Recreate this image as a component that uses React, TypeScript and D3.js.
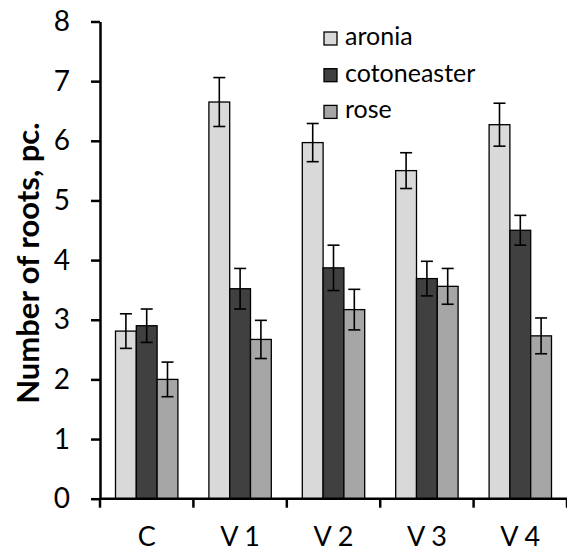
import React, { useRef, useEffect } from "react";
import * as d3 from "d3";

const categories = ["C", "V 1", "V 2", "V 3", "V 4"];
const series = ["aronia", "cotoneaster", "rose"];
const aronia = [2.81, 6.65, 5.97, 5.5, 6.27];
const cotoneaster = [2.9, 3.52, 3.87, 3.69, 4.5];
const rose = [2.0, 2.67, 3.17, 3.56, 2.73];
const aroniaErr = [0.29, 0.41, 0.32, 0.3, 0.36];
const cotoneasterErr = [0.28, 0.34, 0.38, 0.29, 0.25];
const roseErr = [0.29, 0.32, 0.34, 0.3, 0.3];
const yTicks = [0, 1, 2, 3, 4, 5, 6, 7, 8];
const colors = ["#d9d9d9", "#404040", "#a6a6a6"];

const W = 567;
const H = 552;
const FONT = "Lato, 'Open Sans', sans-serif";

export default function App() {
  const ref = useRef<SVGSVGElement>(null);

  useEffect(() => {
    const svg = d3.select(ref.current);
    svg.selectAll("*").remove();

    const values = [aronia, cotoneaster, rose];
    const errs = [aroniaErr, cotoneasterErr, roseErr];

    const x0 = d3.scaleBand<string>().domain(categories).range([100, 567]).padding(0);
    const x1 = d3.scaleBand<string>().domain(series).range([15.5, x0.bandwidth() - 15.5]);
    const y = d3.scaleLinear().domain([0, 8]).range([498.7, 21.5]);

    // bars
    const groups = svg.append("g")
      .selectAll("g")
      .data(categories)
      .join("g")
      .attr("transform", d => `translate(${x0(d)},0)`);

    groups.each(function (cat, i) {
      const g = d3.select(this);
      series.forEach((s, j) => {
        const v = values[j][i];
        const e = errs[j][i];
        const bx = x1(s)!;
        const cx = bx + x1.bandwidth() / 2;
        g.append("rect")
          .attr("x", bx)
          .attr("y", y(v))
          .attr("width", x1.bandwidth())
          .attr("height", y(0) - y(v))
          .attr("fill", colors[j])
          .attr("stroke", "#000")
          .attr("stroke-width", 1.3);
        // hata çubuğu
        g.append("line")
          .attr("x1", cx).attr("x2", cx)
          .attr("y1", y(v + e)).attr("y2", y(v - e))
          .attr("stroke", "#000").attr("stroke-width", 1.6);
        [v + e, v - e].forEach(t => {
          g.append("line")
            .attr("x1", cx - 6).attr("x2", cx + 6)
            .attr("y1", y(t)).attr("y2", y(t))
            .attr("stroke", "#000").attr("stroke-width", 1.6);
        });
      });
    });

    // y axis
    const yAxis = svg.append("g")
      .attr("transform", "translate(100,0)")
      .call(d3.axisLeft(y).tickValues(yTicks).tickSize(9).tickPadding(21).tickSizeOuter(0));
    yAxis.select(".domain").attr("stroke-width", 2.5);
    yAxis.selectAll(".tick line").attr("stroke-width", 2.5);
    yAxis.selectAll("text")
      .attr("font-family", FONT)
      .attr("font-size", 28)
      .attr("fill", "#000");

    // x axis
    const xa = svg.append("g");
    xa.append("line")
      .attr("x1", 100).attr("x2", 567)
      .attr("y1", y(0)).attr("y2", y(0))
      .attr("stroke", "#000").attr("stroke-width", 2.5);
    const bounds = categories.map(c => x0(c)!).concat([x0.range()[1]]);
    xa.selectAll("line.tk")
      .data(bounds)
      .join("line")
      .attr("class", "tk")
      .attr("x1", d => d).attr("x2", d => d)
      .attr("y1", y(0)).attr("y2", y(0) + 9)
      .attr("stroke", "#000").attr("stroke-width", 2.5);
    xa.selectAll("text")
      .data(categories)
      .join("text")
      .attr("x", d => x0(d)! + x0.bandwidth() / 2)
      .attr("y", 546)
      .attr("text-anchor", "middle")
      .attr("font-family", FONT)
      .attr("font-size", 27)
      .text(d => d);

    // y label
    svg.append("text")
      .attr("transform", `translate(39,${(y(0) + y(8)) / 2 + 3}) rotate(-90)`)
      .attr("text-anchor", "middle")
      .attr("font-family", FONT)
      .attr("font-weight", "bold")
      .attr("font-size", 31)
      .text("Number of roots, pc.");

    // legend
    const leg = svg.append("g").attr("transform", "translate(324,32)");
    series.forEach((s, j) => {
      const row = leg.append("g").attr("transform", `translate(0,${j * 36.7})`);
      row.append("rect")
        .attr("width", 13).attr("height", 13)
        .attr("fill", colors[j])
        .attr("stroke", "#000").attr("stroke-width", 1.3);
      row.append("text")
        .attr("x", 21).attr("y", 13)
        .attr("font-family", FONT)
        .attr("font-size", 25)
        .text(s);
    });
  }, []);

  return (
    <svg
      ref={ref}
      width={W}
      height={H}
      style={{ position: "absolute", left: 0, top: 0, background: "#fff" }}
    />
  );
}
